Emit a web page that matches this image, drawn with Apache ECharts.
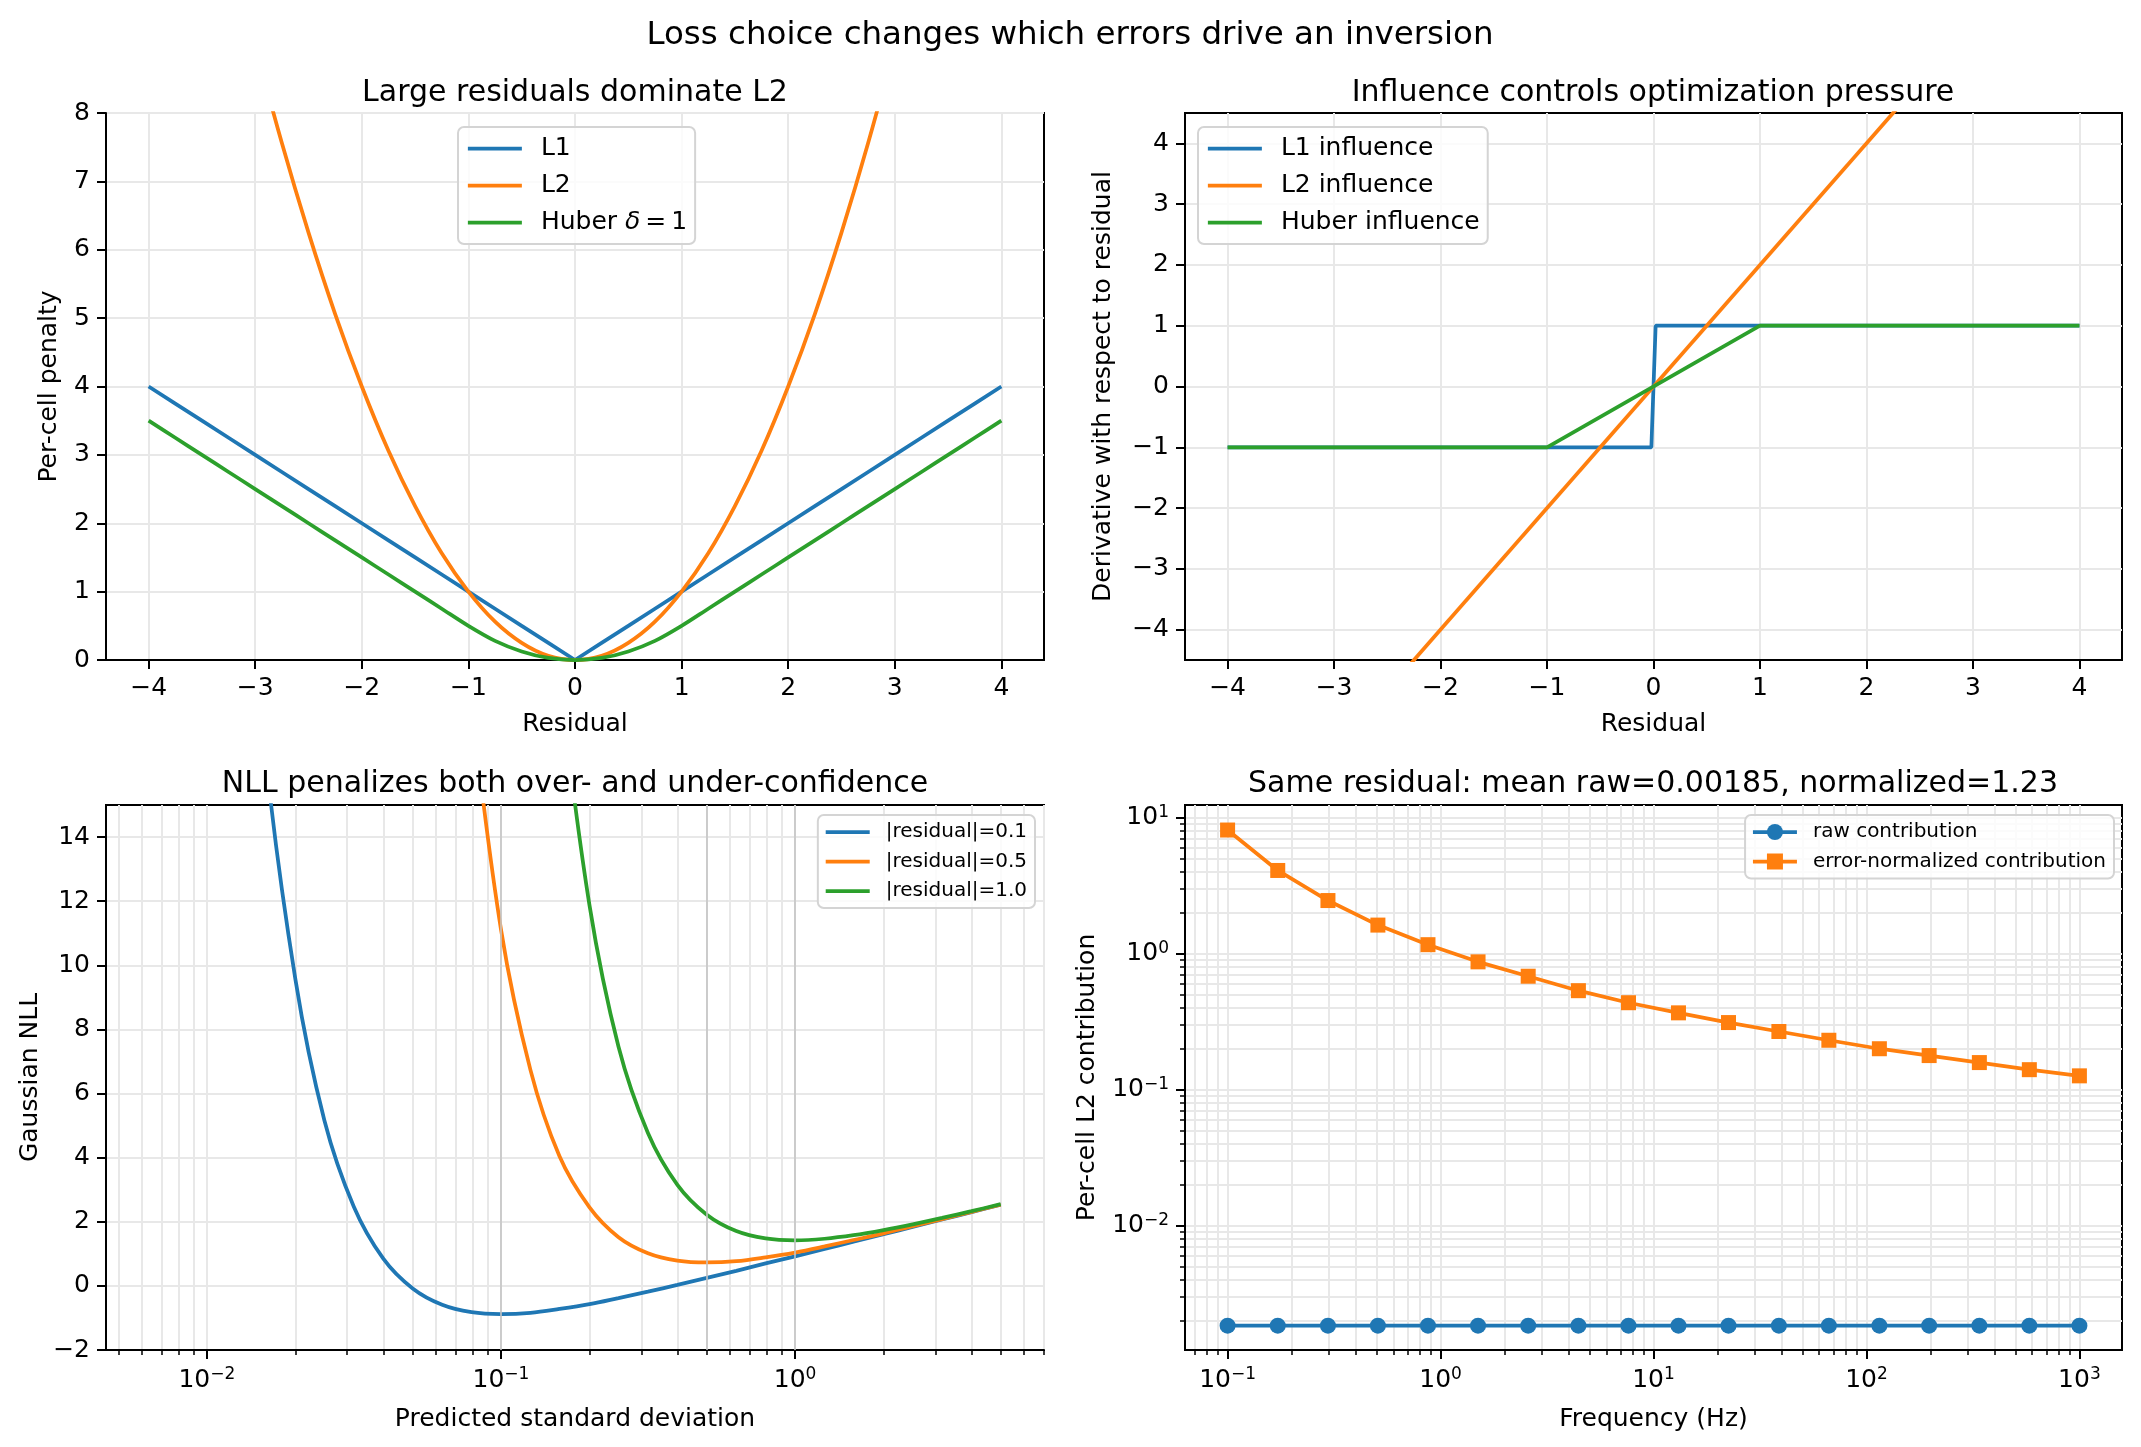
<!DOCTYPE html>
<html>
<head>
<meta charset="utf-8">
<title>Loss choice changes which errors drive an inversion</title>
<script src="https://cdn.jsdelivr.net/npm/echarts@6/dist/echarts.min.js"></script>
<style>
  html, body { margin: 0; padding: 0; background: #fff; }
  #chart { width: 2141px; height: 1447px; }
</style>
</head>
<body>
<div id="chart"></div>
<script>
// ---- data: penalty curves (top left) ----
const residuals = [-4, -3.75, -3.5, -3.25, -3, -2.75, -2.5, -2.25, -2, -1.75, -1.5, -1.25, -1, -0.75, -0.5, -0.25,
  0, 0.25, 0.5, 0.75, 1, 1.25, 1.5, 1.75, 2, 2.25, 2.5, 2.75, 3, 3.25, 3.5, 3.75, 4];
const l1Penalty = [4, 3.75, 3.5, 3.25, 3, 2.75, 2.5, 2.25, 2, 1.75, 1.5, 1.25, 1, 0.75, 0.5, 0.25,
  0, 0.25, 0.5, 0.75, 1, 1.25, 1.5, 1.75, 2, 2.25, 2.5, 2.75, 3, 3.25, 3.5, 3.75, 4];
const l2Penalty = [16, 14.06, 12.25, 10.56, 9, 7.56, 6.25, 5.06, 4, 3.06, 2.25, 1.56, 1, 0.56, 0.25, 0.06,
  0, 0.06, 0.25, 0.56, 1, 1.56, 2.25, 3.06, 4, 5.06, 6.25, 7.56, 9, 10.56, 12.25, 14.06, 16];
const huberPenalty = [3.5, 3.25, 3, 2.75, 2.5, 2.25, 2, 1.75, 1.5, 1.25, 1, 0.75, 0.5, 0.28, 0.125, 0.03,
  0, 0.03, 0.125, 0.28, 0.5, 0.75, 1, 1.25, 1.5, 1.75, 2, 2.25, 2.5, 2.75, 3, 3.25, 3.5];

// ---- data: influence (top right) ----
const l1InfluenceX = [-4, -0.02, 0.02, 4];
const l1InfluenceY = [-1, -1, 1, 1];
const l2InfluenceX = [-4, 4];
const l2InfluenceY = [-8, 8];
const huberInfluenceX = [-4, -1, 1, 4];
const huberInfluenceY = [-1, -1, 1, 1];

// ---- data: Gaussian NLL vs predicted sigma (bottom left) ----
const nllResiduals = [0.1, 0.5, 1.0];
const sigmaR01 = [0.0126, 0.0158, 0.02, 0.0251, 0.0316, 0.0398, 0.0501, 0.0631, 0.0794, 0.1, 0.126, 0.158, 0.2,
  0.251, 0.316, 0.398, 0.501, 0.631, 0.794, 1, 1.26, 1.58, 2, 2.51, 3.16, 3.98, 5];
const nllR01 = [28.09, 16.68, 9.56, 5.16, 2.47, 0.85, -0.08, -0.59, -0.82, -0.88, -0.84, -0.72, -0.57,
  -0.38, -0.18, 0.03, 0.25, 0.47, 0.70, 0.92, 1.15, 1.38, 1.61, 1.84, 2.07, 2.30, 2.53];
const sigmaR05 = [0.0794, 0.1, 0.126, 0.158, 0.2, 0.251, 0.316, 0.398, 0.501, 0.631, 0.794, 1, 1.26, 1.58, 2,
  2.51, 3.16, 3.98, 5];
const nllR05 = [18.20, 11.12, 6.73, 4.05, 2.45, 1.52, 1.02, 0.79, 0.73, 0.77, 0.89, 1.04, 1.23, 1.43, 1.64,
  1.86, 2.08, 2.31, 2.53];
const sigmaR10 = [0.158, 0.2, 0.251, 0.316, 0.398, 0.501, 0.631, 0.794, 1, 1.26, 1.58, 2, 2.51, 3.16, 3.98, 5];
const nllR10 = [18.98, 11.87, 7.46, 4.77, 3.15, 2.22, 1.71, 1.48, 1.42, 1.47, 1.58, 1.74, 1.92, 2.12, 2.33, 2.55];

// ---- data: per-frequency contribution (bottom right) ----
const frequencyHz = [0.1, 0.172, 0.296, 0.508, 0.873, 1.5, 2.58, 4.44, 7.63, 13.1, 22.5, 38.8, 66.6, 115, 197,
  339, 582, 1000];
const rawContribution = [0.00185, 0.00185, 0.00185, 0.00185, 0.00185, 0.00185, 0.00185, 0.00185, 0.00185,
  0.00185, 0.00185, 0.00185, 0.00185, 0.00185, 0.00185, 0.00185, 0.00185, 0.00185];
const normalizedContribution = [8.15, 4.11, 2.47, 1.63, 1.17, 0.875, 0.686, 0.537, 0.438, 0.369, 0.313, 0.269,
  0.232, 0.201, 0.179, 0.159, 0.141, 0.127];

// ---- tick labels ----
const residualTicks = [-4, -3, -2, -1, 0, 1, 2, 3, 4];
const penaltyTicks = [0, 1, 2, 3, 4, 5, 6, 7, 8];
const influenceTicks = [-4, -3, -2, -1, 0, 1, 2, 3, 4];
const nllTicks = [-2, 0, 2, 4, 6, 8, 10, 12, 14];
const sigmaTicks = [0.01, 0.1, 1];
const freqTicks = [0.1, 1, 10, 100, 1000];
const contributionTicks = [0.01, 0.1, 1, 10];

const FONT = 'DejaVu Sans';
const BLUE = '#1f77b4', ORANGE = '#ff7f0e', GREEN = '#2ca02c';

const pairs = (xs, ys) => xs.map((x, i) => [x, ys[i]]);
const minus = v => String(v).replace('-', '\u2212');

// minor ticks of a log axis: 2..9 times each decade inside the range
function minorTicks(lo, hi) {
  const out = [];
  for (let e = Math.floor(Math.log10(lo)); e <= Math.ceil(Math.log10(hi)); e++) {
    for (let m = 2; m <= 9; m++) {
      const v = +(m * Math.pow(10, e)).toPrecision(3);
      if (v > lo && v < hi) out.push(v);
    }
  }
  return out;
}

const supRich = {
  b: { fontSize: 25, lineHeight: 28, verticalAlign: 'middle', fontFamily: FONT, color: '#000' },
  s: { fontSize: 17, lineHeight: 17, verticalAlign: 'top', fontFamily: FONT, color: '#000' }
};
const logLabel = v => '{b|10}{s|' + minus(Math.round(Math.log10(v))) + '}';

function axis(opts) {
  const a = {
    type: opts.type || 'value',
    gridIndex: opts.grid,
    min: opts.min,
    max: opts.max,
    position: opts.position,
    name: opts.name || '',
    nameLocation: 'middle',
    nameGap: opts.nameGap,
    nameTextStyle: { fontSize: 25, color: '#000', fontFamily: FONT },
    axisLine: { show: !opts.minor, onZero: false, lineStyle: { color: '#000', width: 2 } },
    axisTick: { show: true, length: opts.minor ? 5 : 9, customValues: opts.ticks,
      lineStyle: { color: '#000', width: opts.minor ? 1.5 : 2 } },
    axisLabel: { show: !opts.minor, customValues: opts.ticks, margin: 16, fontSize: 25, color: '#000',
      fontFamily: FONT, formatter: opts.type === 'log' ? logLabel : minus, rich: supRich },
    splitLine: { show: true, lineStyle: { color: '#e8e8e8', width: 2 } },
    minorTick: { show: false },
    minorSplitLine: { show: false }
  };
  if (opts.type === 'log') a.logBase = 10;
  return a;
}

const sigmaMin = 0.00454, sigmaMax = 7.02;
const freqMin = 0.0631, freqMax = 1585;
const contribMin = 0.001225, contribMax = 12.45;

const xAxes = [
  axis({ grid: 0, min: -4.4, max: 4.4, ticks: residualTicks, name: 'Residual', nameGap: 52 }),
  axis({ grid: 1, min: -4.4, max: 4.4, ticks: residualTicks, name: 'Residual', nameGap: 52 }),
  axis({ grid: 2, type: 'log', min: sigmaMin, max: sigmaMax, ticks: sigmaTicks,
    name: 'Predicted standard deviation', nameGap: 57 }),
  axis({ grid: 3, type: 'log', min: freqMin, max: freqMax, ticks: freqTicks,
    name: 'Frequency (Hz)', nameGap: 57 }),
  axis({ grid: 2, type: 'log', min: sigmaMin, max: sigmaMax, ticks: minorTicks(sigmaMin, sigmaMax), minor: true,
    position: 'bottom' }),
  axis({ grid: 3, type: 'log', min: freqMin, max: freqMax, ticks: minorTicks(freqMin, freqMax), minor: true,
    position: 'bottom' })
];
const yAxes = [
  axis({ grid: 0, min: 0, max: 8, ticks: penaltyTicks, name: 'Per-cell penalty', nameGap: 44 }),
  axis({ grid: 1, min: -4.5, max: 4.5, ticks: influenceTicks,
    name: 'Derivative with respect to residual', nameGap: 69 }),
  axis({ grid: 2, min: -2, max: 15, ticks: nllTicks, name: 'Gaussian NLL', nameGap: 63 }),
  axis({ grid: 3, type: 'log', min: contribMin, max: contribMax, ticks: contributionTicks,
    name: 'Per-cell L2 contribution', nameGap: 85, position: 'left' }),
  axis({ grid: 3, type: 'log', min: contribMin, max: contribMax, ticks: minorTicks(contribMin, contribMax),
    minor: true, position: 'left' })
];

function line(name, xi, yi, data, color, extra) {
  return Object.assign({
    type: 'line', name: name, xAxisIndex: xi, yAxisIndex: yi, data: data,
    symbol: 'none', clip: true, smooth: false,
    lineStyle: { color: color, width: 3.75 }, itemStyle: { color: color },
    emphasis: { disabled: true }
  }, extra || {});
}

function vline(x) {
  return {
    silent: true, symbol: 'none', label: { show: false },
    lineStyle: { color: '#c4c4c4', width: 1.6, type: 'solid' },
    emphasis: { disabled: true },
    data: [{ xAxis: x }]
  };
}

const series = [
  line('L1', 0, 0, pairs(residuals, l1Penalty), BLUE),
  line('L2', 0, 0, pairs(residuals, l2Penalty), ORANGE, { smooth: 0.3 }),
  line('Huber δ = 1', 0, 0, pairs(residuals, huberPenalty), GREEN, { smooth: 0.3 }),

  line('L1 influence', 1, 1, pairs(l1InfluenceX, l1InfluenceY), BLUE),
  line('L2 influence', 1, 1, pairs(l2InfluenceX, l2InfluenceY), ORANGE),
  line('Huber influence', 1, 1, pairs(huberInfluenceX, huberInfluenceY), GREEN),

  line('|residual|=0.1', 2, 2, pairs(sigmaR01, nllR01), BLUE, { smooth: 0.35, markLine: vline(nllResiduals[0]) }),
  line('|residual|=0.5', 2, 2, pairs(sigmaR05, nllR05), ORANGE, { smooth: 0.35, markLine: vline(nllResiduals[1]) }),
  line('|residual|=1.0', 2, 2, pairs(sigmaR10, nllR10), GREEN, { smooth: 0.35, markLine: vline(nllResiduals[2]) }),

  line('raw contribution', 3, 3, pairs(frequencyHz, rawContribution), BLUE,
    { symbol: 'circle', symbolSize: 16, showSymbol: true, showAllSymbol: true }),
  line('error-normalized contribution', 3, 3, pairs(frequencyHz, normalizedContribution), ORANGE,
    { symbol: 'rect', symbolSize: 15, showSymbol: true, showAllSymbol: true })
];

function legend(names, pos, big, withMarkers) {
  const fs = big ? 25 : 20;
  return Object.assign({
    data: names, orient: 'vertical', align: 'left',
    itemWidth: big ? 54 : 44, itemHeight: fs, itemGap: big ? 12 : 9.5,
    padding: big ? [9, 8, 9, 8] : [7, 8, 7, 6],
    backgroundColor: 'rgba(255,255,255,0.8)', borderColor: '#d4d4d4', borderWidth: 2, borderRadius: 6,
    selectedMode: false,
    lineStyle: { width: 3.75 },
    itemStyle: withMarkers ? {} : { opacity: 0 },
    textStyle: { fontSize: fs, color: '#000', fontFamily: FONT, padding: [0, 0, 0, big ? 14 : 11],
      rich: { i: { fontStyle: 'italic', fontSize: fs, fontFamily: FONT, color: '#000' } } },
    formatter: n => n.replace('δ = ', '{i|δ}\u2009=\u20091')
      .replace(/1$/, n.indexOf('δ') >= 0 ? '' : '1')
  }, pos);
}

function title(text, x, y, size) {
  return { text: text, left: x, top: y, textAlign: 'center', padding: 0,
    textStyle: { fontSize: size, fontWeight: 'normal', color: '#000', fontFamily: FONT } };
}

const gridBox = { show: true, borderColor: '#000', borderWidth: 2, backgroundColor: 'transparent', containLabel: false };

const option = {
  animation: false,
  backgroundColor: '#fff',
  textStyle: { fontFamily: FONT },
  title: [
    title('Loss choice changes which errors drive an inversion', 1070, 19, 32.5),
    title('Large residuals dominate L2', 575, 78, 30),
    title('Influence controls optimization pressure', 1653, 78, 30),
    title('NLL penalizes both over- and under-confidence', 575, 769, 30),
    title('Same residual: mean raw=0.00185, normalized=1.23', 1653, 769, 30)
  ],
  grid: [
    Object.assign({ left: 106, top: 113, width: 938, height: 547 }, gridBox),
    Object.assign({ left: 1185, top: 113, width: 937, height: 547 }, gridBox),
    Object.assign({ left: 106, top: 805, width: 938, height: 545 }, gridBox),
    Object.assign({ left: 1185, top: 805, width: 937, height: 545 }, gridBox)
  ],
  legend: [
    legend(['L1', 'L2', 'Huber δ = 1'], { left: 458, top: 127 }, true, false),
    legend(['L1 influence', 'L2 influence', 'Huber influence'], { left: 1198, top: 127 }, true, false),
    legend(['|residual|=0.1', '|residual|=0.5', '|residual|=1.0'], { right: 1106, top: 815 }, false, false),
    legend(['raw contribution', 'error-normalized contribution'], { right: 27, top: 815 }, false, true)
  ],
  xAxis: xAxes,
  yAxis: yAxes,
  series: series
};

const chart = echarts.init(document.getElementById('chart'));
chart.setOption(option);
</script>
</body>
</html>
